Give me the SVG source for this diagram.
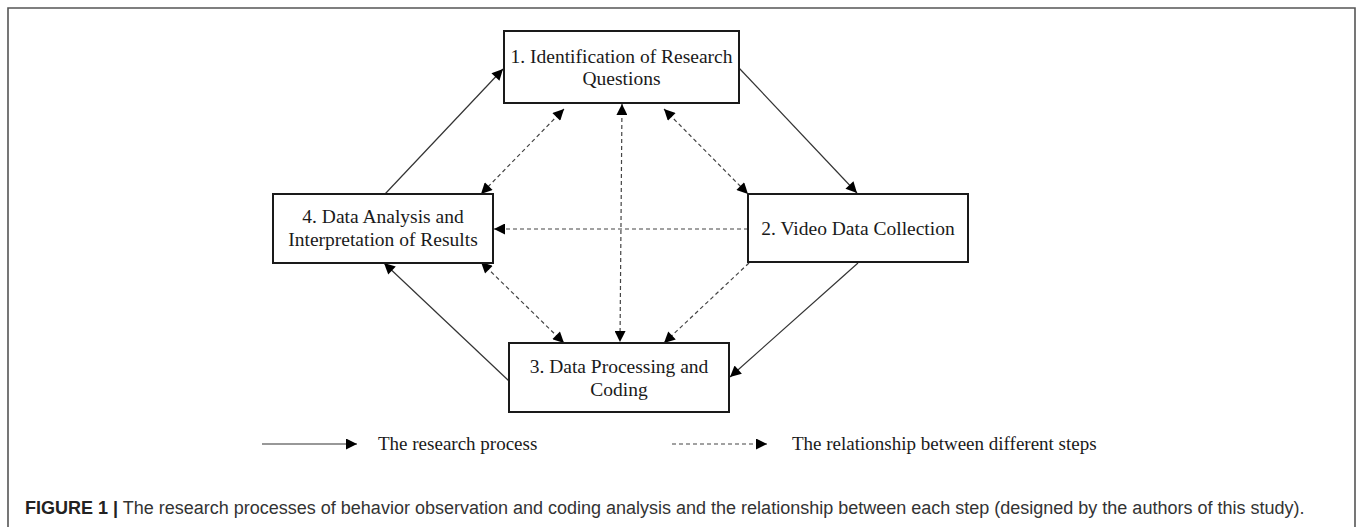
<svg xmlns="http://www.w3.org/2000/svg" width="1357" height="527" viewBox="0 0 1357 527">
  <style>
    .box { fill: #fff; stroke: #1a1a1a; stroke-width: 2; }
    .lbl { font-family: "Liberation Serif", "Times New Roman", serif; font-size: 19.5px; fill: #1a1a1a; text-anchor: middle; }
    .leg { font-family: "Liberation Serif", "Times New Roman", serif; font-size: 19px; fill: #1a1a1a; }
    .solid { stroke: #333; stroke-width: 1.2; fill: none; }
    .dash { stroke: #444; stroke-width: 1.2; stroke-dasharray: 4 3; fill: none; }
    .cap { font-family: "Liberation Sans", Arial, sans-serif; font-size: 18px; fill: #333; }
  </style>
  <defs>
    <marker id="ah" viewBox="0 0 10 10" refX="10" refY="5" markerWidth="13" markerHeight="11" markerUnits="userSpaceOnUse" orient="auto-start-reverse">
      <path d="M0,0 L10,5 L0,10 z" fill="#000"/>
    </marker>
  </defs>
  <rect width="1357" height="527" fill="#fff"/>
  <path d="M8,527 V8 H1355 V527" fill="none" stroke="#555" stroke-width="1.6"/>

  <g id="connectors">
    <line class="solid" x1="385" y1="194" x2="503" y2="69" marker-end="url(#ah)"/>
    <line class="solid" x1="739" y1="68" x2="857" y2="193" marker-end="url(#ah)"/>
    <line class="solid" x1="858" y1="263" x2="730" y2="377" marker-end="url(#ah)"/>
    <line class="solid" x1="509" y1="381" x2="384" y2="263" marker-end="url(#ah)"/>

    <line class="dash" x1="564" y1="109" x2="481" y2="194" marker-start="url(#ah)" marker-end="url(#ah)"/>
    <line class="dash" x1="622" y1="104" x2="620" y2="342" marker-start="url(#ah)" marker-end="url(#ah)"/>
    <line class="dash" x1="664" y1="109" x2="748" y2="194" marker-start="url(#ah)" marker-end="url(#ah)"/>
    <line class="dash" x1="748" y1="229" x2="494" y2="229" marker-end="url(#ah)"/>
    <line class="dash" x1="481" y1="262" x2="564" y2="343" marker-start="url(#ah)" marker-end="url(#ah)"/>
    <line class="dash" x1="749" y1="263" x2="664" y2="343" marker-end="url(#ah)"/>
  </g>

  <g id="node1">
    <rect class="box" x="504" y="31" width="235" height="72"/>
    <text class="lbl" x="621.5" y="63">1. Identification of Research</text>
    <text class="lbl" x="621.5" y="85">Questions</text>
  </g>
  <g id="node2">
    <rect class="box" x="748" y="194" width="220" height="68"/>
    <text class="lbl" x="858" y="235">2. Video Data Collection</text>
  </g>
  <g id="node3">
    <rect class="box" x="509" y="343" width="220" height="69"/>
    <text class="lbl" x="619" y="373">3. Data Processing and</text>
    <text class="lbl" x="619" y="396">Coding</text>
  </g>
  <g id="node4">
    <rect class="box" x="273" y="194" width="220" height="69"/>
    <text class="lbl" x="383" y="223">4. Data Analysis and</text>
    <text class="lbl" x="383" y="246">Interpretation of Results</text>
  </g>

  <g id="legend">
    <line class="solid" x1="262" y1="444" x2="357" y2="444" marker-end="url(#ah)"/>
    <text class="leg" x="378" y="450">The research process</text>
    <line class="dash" x1="672" y1="444" x2="767" y2="444" stroke-dasharray="3 2" marker-end="url(#ah)"/>
    <text class="leg" x="792" y="450">The relationship between different steps</text>
  </g>

  <text class="cap" x="25" y="514"><tspan font-weight="bold" fill="#222">FIGURE 1 |</tspan> The research processes of behavior observation and coding analysis and the relationship between each step (designed by the authors of this study).</text>
</svg>
